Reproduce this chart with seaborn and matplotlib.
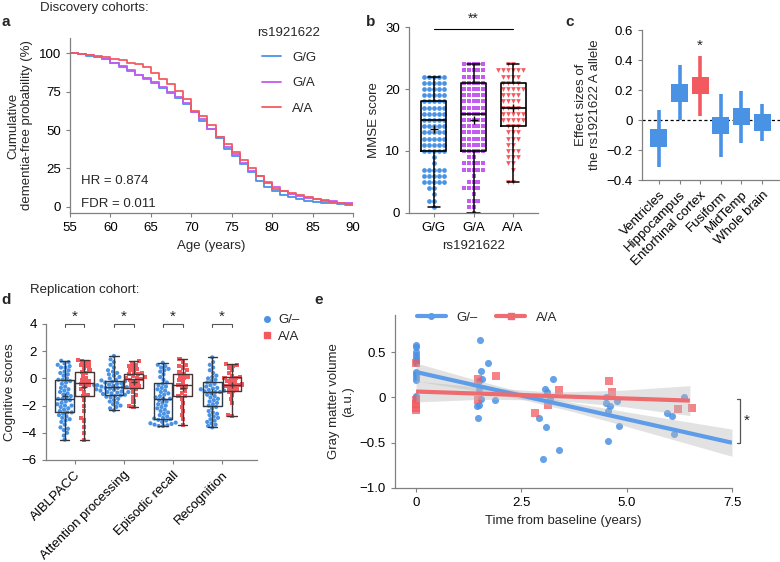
import numpy as np
import pandas as pd
import matplotlib
matplotlib.use('Agg')
import matplotlib.pyplot as plt
from matplotlib.lines import Line2D
import seaborn as sns

# ============================================================================
# DATA
# ============================================================================

# a - Kaplan-Meier style curves, one value per year
ages = list(range(55, 91))
km_gg = [100, 99.6, 98.4, 97.5, 96.3, 93.5, 91.3, 88.7, 86.0, 83.8, 80.5, 77.5,
         74.0, 71.0, 67.0, 62.0, 56.0, 50.5, 45.0, 37.5, 33.0, 28.0, 23.0, 17.0,
         13.0, 10.5, 8.0, 6.3, 5.0, 4.0, 3.4, 2.8, 2.3, 1.8, 1.4, 1.1]
km_ga = [100, 99.6, 98.6, 97.8, 96.5, 94.0, 91.8, 89.2, 86.2, 83.5, 81.5, 78.0,
         75.0, 71.5, 67.5, 62.0, 57.0, 51.0, 45.5, 39.0, 34.5, 28.5, 23.5, 20.0,
         16.0, 13.0, 10.5, 8.5, 7.2, 6.0, 5.0, 4.2, 3.5, 2.8, 2.2, 1.6]
km_aa = [100, 99.5, 99.0, 98.5, 97.8, 96.5, 95.5, 94.0, 93.0, 91.0, 87.5, 83.5,
         80.0, 75.5, 70.5, 62.5, 59.0, 53.0, 45.5, 41.0, 36.0, 30.5, 25.0, 20.0,
         15.5, 11.5, 10.5, 9.0, 8.0, 6.5, 5.0, 4.0, 3.0, 2.5, 2.0, 1.5]

# b - MMSE score counts per integer score (0..24)
mmse_scores = list(range(0, 25))
mmse_gg_counts = [0, 1, 2, 1, 2, 5, 5, 5, 1, 1, 5, 5, 5, 5, 5, 5, 5, 5, 5, 5,
                  5, 5, 5, 0, 0]
mmse_ga_counts = [1, 2, 3, 1, 4, 3, 1, 5, 5, 2, 5, 5, 5, 5, 5, 5, 5, 5, 5, 5,
                  5, 5, 5, 5, 5]
mmse_aa_counts = [0, 0, 0, 0, 0, 2, 0, 1, 2, 3, 3, 2, 3, 3, 3, 5, 5, 4, 4, 4,
                  5, 4, 4, 6, 2]
mmse_groups = ['G/G', 'G/A', 'A/A']
mmse_q1 = [10, 10, 14]
mmse_med = [15, 16, 17]
mmse_q3 = [18, 21, 21]
mmse_lo = [1, 0, 5]
mmse_hi = [22, 24, 24]
mmse_mean = [13.5, 15, 17]

# c - effect sizes
regions = ['Ventricles', 'Hippocampus', 'Entorhinal cortex', 'Fusiform',
           'MidTemp', 'Whole brain']
effect = [-0.12, 0.18, 0.23, -0.035, 0.025, -0.015]
effect_lo = [-0.31, 0.0, 0.03, -0.245, -0.15, -0.14]
effect_hi = [0.07, 0.37, 0.43, 0.175, 0.195, 0.11]
effect_sig = [False, False, True, False, False, False]

# d - cognitive scores
tests = ['AIBLPACC', 'Attention processing', 'Episodic recall', 'Recognition']
cog_g = {
    'AIBLPACC': [1.3, 1.2, 1.1, 1.0, 0.9, 0.8, 0.8, 0.6, 0.5, 0.4, 0.3, 0.2, 0.0,
                 -0.1, -0.1, -0.2, -0.3, -0.4, -0.6, -0.7, -0.8, -0.9, -1.0, -1.1,
                 -1.2, -1.3, -1.4, -1.5, -1.5, -1.6, -1.7, -1.8, -1.9, -2.0, -2.0,
                 -2.1, -2.2, -2.3, -2.4, -2.5, -2.5, -2.6, -2.7, -2.8, -2.9, -3.0,
                 -3.1, -3.2, -3.4, -3.6, -3.7, -3.8, -4.0, -4.2, -4.5],
    'Attention processing': [1.65, 1.4, 1.2, 1.0, 0.8, 0.6, 0.5, 0.4, 0.3, 0.2,
                             0.1, 0.0, -0.1, -0.15, -0.2, -0.25, -0.3, -0.35,
                             -0.4, -0.45, -0.5, -0.5, -0.55, -0.6, -0.6, -0.65,
                             -0.65, -0.7, -0.7, -0.75, -0.8, -0.85, -0.9, -0.95,
                             -1.0, -1.0, -1.05, -1.1, -1.15, -1.2, -1.25, -1.3,
                             -1.35, -1.4, -1.5, -1.6, -1.7, -1.8, -1.9, -2.0,
                             -2.1, -2.2, -2.35],
    'Episodic recall': [1.15, 1.0, 0.9, 0.8, 0.7, 0.6, 0.5, 0.3, 0.1, -0.1, -0.3,
                        -0.4, -0.5, -0.6, -0.7, -0.8, -0.9, -1.0, -1.1, -1.2,
                        -1.3, -1.4, -1.5, -1.5, -1.6, -1.7, -1.8, -1.9, -2.0,
                        -2.1, -2.2, -2.3, -2.4, -2.5, -2.6, -2.7, -2.8, -2.9,
                        -2.95, -3.0, -3.05, -3.1, -3.2, -3.25, -3.3, -3.35, -3.4,
                        -3.45, -3.5, -3.5],
    'Recognition': [1.55, 1.2, 1.0, 0.8, 0.6, 0.4, 0.2, 0.1, 0.0, -0.1, -0.2,
                    -0.3, -0.4, -0.5, -0.6, -0.7, -0.75, -0.8, -0.85, -0.9, -0.95,
                    -1.0, -1.0, -1.1, -1.2, -1.3, -1.4, -1.5, -1.6, -1.7, -1.8,
                    -1.9, -2.0, -2.1, -2.2, -2.4, -2.5, -2.6, -2.7, -2.8, -2.9,
                    -3.0, -3.1, -3.2, -3.3, -3.4, -3.5, -3.6],
}
cog_a = {
    'AIBLPACC': [1.35, 1.3, 1.2, 1.1, 1.0, 0.9, 0.8, 0.6, 0.5, 0.4, 0.2, 0.0,
                 -0.1, -0.2, -0.3, -0.4, -0.5, -0.6, -0.8, -1.0, -1.2, -1.3, -1.6,
                 -2.0, -2.4, -2.9, -3.1, -3.6, -4.0, -4.5],
    'Attention processing': [1.25, 1.1, 1.0, 0.9, 0.8, 0.7, 0.6, 0.5, 0.4, 0.35,
                             0.3, 0.2, 0.1, 0.05, 0.0, -0.05, -0.1, -0.2, -0.3,
                             -0.4, -0.5, -0.6, -0.7, -0.8, -1.0, -1.2, -1.4,
                             -1.7, -2.0, -2.1],
    'Episodic recall': [1.4, 1.2, 1.0, 0.9, 0.8, 0.6, 0.5, 0.35, 0.2, 0.1, 0.0,
                        -0.1, -0.3, -0.5, -0.6, -0.7, -0.9, -1.1, -1.3, -1.3,
                        -1.5, -1.8, -2.1, -2.4, -2.7, -3.0, -3.45],
    'Recognition': [1.05, 1.0, 0.9, 0.8, 0.6, 0.4, 0.2, 0.1, 0.05, 0.0, -0.1,
                    -0.2, -0.3, -0.4, -0.45, -0.5, -0.55, -0.6, -0.7, -0.8, -0.9,
                    -1.0, -1.2, -1.5, -1.8, -2.7, -2.75],
}
cog_g_q1 = [-2.5, -1.2, -2.95, -2.05]
cog_g_med = [-1.5, -0.65, -1.5, -1.0]
cog_g_q3 = [-0.1, -0.2, -0.35, -0.25]
cog_g_lo = [-4.5, -2.35, -3.5, -3.6]
cog_g_hi = [1.3, 1.65, 1.15, 1.55]
cog_g_mean = [-1.3, -0.65, -1.55, -1.0]
cog_a_q1 = [-1.3, -0.7, -1.3, -0.9]
cog_a_med = [-0.35, -0.05, -0.5, -0.5]
cog_a_q3 = [0.5, 0.35, 0.35, 0.1]
cog_a_lo = [-4.5, -2.1, -3.45, -2.75]
cog_a_hi = [1.35, 1.25, 1.4, 1.05]
cog_a_mean = [-0.6, -0.3, -0.7, -0.5]

# e - gray matter volume over time
gm_g_x = [0, 0, 0, 0, 0, 0, 0, 0, 0, 0, 0, 0, 0, 0,
          1.52, 1.54, 1.57, 1.5, 1.5, 1.54, 1.5, 1.45, 1.48, 1.71, 1.87,
          3.06, 3.1, 3.24, 2.92, 3.09, 3.02, 3.4, 3.18,
          4.52, 4.52, 4.56, 4.6, 4.78, 4.81, 4.55,
          5.96, 6.08, 6.13, 6.36]
gm_g_y = [0.58, 0.56, 0.5, 0.47, 0.44, 0.4, 0.38, 0.28, 0.26, 0.225, 0.19, 0.02,
          0.0, -0.03,
          0.63, 0.29, 0.2, 0.185, 0.09, -0.02, -0.085, -0.1, -0.23, 0.38, -0.03,
          0.09, 0.06, 0.2, -0.23, -0.33, -0.68, -0.58, -0.02,
          0.0, -0.06, -0.15, -0.1, -0.04, -0.31, -0.48,
          -0.17, -0.21, -0.4, 0.0]
gm_a_x = [0, 0, 0, 0, 0, 1.46, 1.46, 1.9, 2.83, 3.14, 3.4, 4.58, 4.65, 6.22, 6.56]
gm_a_y = [0.38, -0.03, -0.07, -0.115, -0.14, 0.2, -0.03, 0.24, -0.17, -0.085,
          0.08, 0.185, 0.063, -0.13, -0.12]
fit_g_x = [0, 7.5]
fit_g_y = [0.28, -0.5]
fit_a_x = [0, 6.5]
fit_a_y = [0.065, -0.035]
band_g_x = [0, 1.25, 2.5, 3.75, 5.0, 6.25, 7.5]
band_g_lo = [0.18, 0.085, -0.02, -0.16, -0.32, -0.485, -0.65]
band_g_hi = [0.38, 0.215, 0.06, -0.06, -0.16, -0.255, -0.35]
band_a_x = [0, 1.6, 3.25, 4.9, 6.5]
band_a_lo = [-0.05, -0.02, -0.03, -0.1, -0.2]
band_a_hi = [0.18, 0.11, 0.06, 0.08, 0.13]

# ============================================================================
# STYLE
# ============================================================================

BLUE = '#4a92e4'
PURPLE = '#c45cf0'
RED = '#f25a60'
SPINE = '#808080'
FS = 9.5

sns.set_style('ticks')
plt.rcParams['font.family'] = ['Liberation Sans', 'DejaVu Sans']
plt.rcParams['font.size'] = FS
plt.rcParams['axes.edgecolor'] = SPINE
plt.rcParams['axes.linewidth'] = 0.9
plt.rcParams['xtick.color'] = SPINE
plt.rcParams['ytick.color'] = SPINE
plt.rcParams['xtick.labelcolor'] = 'black'
plt.rcParams['ytick.labelcolor'] = 'black'
plt.rcParams['xtick.major.size'] = 3
plt.rcParams['ytick.major.size'] = 3
plt.rcParams['xtick.labelsize'] = FS
plt.rcParams['ytick.labelsize'] = FS
plt.rcParams['axes.labelsize'] = FS

W, H = 780, 562
fig = plt.figure(figsize=(W / 100, H / 100), dpi=100)


def add_ax(left, top, right, bottom):
    return fig.add_axes([left / W, 1 - bottom / H, (right - left) / W,
                         (bottom - top) / H])


def fig_text(x, y, s, **kw):
    fig.text(x / W, 1 - y / H, s, **kw)


def box_stats(q1, med, q3, lo, hi, mean):
    return [dict(q1=a, med=b, q3=c, whislo=d, whishi=e, mean=f, fliers=[])
            for a, b, c, d, e, f in zip(q1, med, q3, lo, hi, mean)]


# ============================================================================
# PANEL a
# ============================================================================

ax = add_ax(70, 38, 353, 213)
for vals, col, lab in [(km_gg, BLUE, 'G/G'), (km_ga, PURPLE, 'G/A'),
                       (km_aa, RED, 'A/A')]:
    ax.plot(ages, vals, drawstyle='steps-post', color=col, lw=1.3, label=lab)
ax.set_xlim(55, 90)
ax.set_ylim(-4, 110)
ax.set_xticks(range(55, 91, 5))
ax.set_yticks([0, 25, 50, 75, 100])
ax.set_xlabel('Age (years)', labelpad=4)
ax.set_ylabel('Cumulative\ndementia-free probability (%)', linespacing=1.25)
ax.text(0.04, 0.18, 'HR = 0.874', transform=ax.transAxes, va='center')
ax.text(0.04, 0.05, 'FDR = 0.011', transform=ax.transAxes, va='center')
leg = ax.legend(title='rs1921622', frameon=False, loc='upper left',
                bbox_to_anchor=(0.62, 1.13), handlelength=1.5,
                labelspacing=1.0, fontsize=FS, title_fontsize=FS)
leg._legend_box.sep = 9
sns.despine(ax=ax)

# ============================================================================
# PANEL b
# ============================================================================

ax = add_ax(409, 27, 538, 213)
markers_b = ['o', 's', 'v']
colors_b = [BLUE, PURPLE, RED]
for grp, counts, mk, col in zip(mmse_groups,
                                [mmse_gg_counts, mmse_ga_counts, mmse_aa_counts],
                                markers_b, colors_b):
    vals = np.repeat(mmse_scores, counts)
    sns.swarmplot(x=[grp] * len(vals), y=vals, order=mmse_groups, ax=ax,
                  marker=mk, color=col, size=3.4, linewidth=0, zorder=1)
ax.bxp(box_stats(mmse_q1, mmse_med, mmse_q3, mmse_lo, mmse_hi, mmse_mean),
       positions=range(3), widths=0.63, showmeans=True, showfliers=False,
       boxprops=dict(color='black', lw=1.2), medianprops=dict(color='black', lw=1.2),
       whiskerprops=dict(color='black', lw=1.1), capprops=dict(color='black', lw=1.1),
       meanprops=dict(marker='+', markeredgecolor='black', markersize=6),
       manage_ticks=False, zorder=3)
ax.set_xlim(-0.63, 2.63)
ax.set_ylim(0, 30)
ax.set_yticks([0, 10, 20, 30])
ax.set_xticks(range(3))
ax.set_xticklabels(mmse_groups)
ax.set_xlabel('rs1921622')
ax.set_ylabel('MMSE score')
ax.plot([0, 2], [29.7, 29.7], color='black', lw=0.8, clip_on=False)
ax.text(1, 30.2, '**', ha='center', va='bottom', fontsize=10)
sns.despine(ax=ax)

# ============================================================================
# PANEL c
# ============================================================================

ax = add_ax(642, 30, 780, 180)
xpos = np.arange(len(regions))
col_c = [RED if s else BLUE for s in effect_sig]
ax.axhline(0, color='black', lw=0.9, ls=(0, (2.5, 2)), zorder=0)
ax.vlines(xpos, effect_lo, effect_hi, colors=col_c, lw=2.6, zorder=2)
sns.scatterplot(x=xpos, y=effect, hue=col_c, palette={BLUE: BLUE, RED: RED},
                marker='s', s=150, linewidth=0, legend=False, ax=ax, zorder=3)
for i, s in enumerate(effect_sig):
    if s:
        ax.text(i, effect_hi[i] + 0.02, '*', ha='center', va='bottom', fontsize=11)
ax.set_xlim(-0.82, 5.87)
ax.set_ylim(-0.4, 0.6)
ax.set_yticks([-0.4, -0.2, 0, 0.2, 0.4, 0.6])
ax.set_yticklabels(['\u22120.4', '\u22120.2', '0', '0.2', '0.4', '0.6'])
ax.set_xticks(xpos)
ax.set_xticklabels(regions, rotation=45, ha='right', rotation_mode='anchor')
ax.set_ylabel('Effect sizes of\nthe rs1921622 A allele', linespacing=1.25)
sns.despine(ax=ax)

# ============================================================================
# PANEL d
# ============================================================================

ax = add_ax(46, 324, 257, 460)
rows = []
for t in tests:
    rows += [(t, 'G/\u2013', v) for v in cog_g[t]]
    rows += [(t, 'A/A', v) for v in cog_a[t]]
df_d = pd.DataFrame(rows, columns=['test', 'geno', 'score'])
hue_levels = ['G/\u2013', 'A/A']
for lvl, mk, col in [(hue_levels[0], 'o', BLUE), (hue_levels[1], 's', RED)]:
    sns.swarmplot(data=df_d[df_d.geno == lvl], x='test', y='score', hue='geno',
                  hue_order=hue_levels, order=tests, dodge=True,
                  palette={hue_levels[0]: col, hue_levels[1]: col}, marker=mk,
                  size=3.0, linewidth=0, legend=False, ax=ax, zorder=1)
pos = np.arange(len(tests))
common = dict(widths=0.38, showmeans=True, showfliers=False, manage_ticks=False,
              zorder=3)
ax.bxp(box_stats(cog_g_q1, cog_g_med, cog_g_q3, cog_g_lo, cog_g_hi, cog_g_mean),
       positions=pos - 0.2,
       boxprops=dict(color='#2f3a48', lw=1.0), medianprops=dict(color='#2f3a48', lw=1.0),
       whiskerprops=dict(color='#2f3a48', lw=1.0), capprops=dict(color='#2f3a48', lw=1.0),
       meanprops=dict(marker='+', markeredgecolor='#2f3a48', markersize=5), **common)
ax.bxp(box_stats(cog_a_q1, cog_a_med, cog_a_q3, cog_a_lo, cog_a_hi, cog_a_mean),
       positions=pos + 0.2,
       boxprops=dict(color='#4a3434', lw=1.0), medianprops=dict(color='#4a3434', lw=1.0),
       whiskerprops=dict(color='#4a3434', lw=1.0), capprops=dict(color='#4a3434', lw=1.0),
       meanprops=dict(marker='+', markeredgecolor='#4a3434', markersize=5), **common)
for p in pos:
    ax.plot([p - 0.2, p - 0.2, p + 0.2, p + 0.2], [3.8, 4.0, 4.0, 3.8],
            color='#555555', lw=0.8, clip_on=False)
    ax.text(p, 4.05, '*', ha='center', va='bottom', fontsize=11)
ax.set_xlim(-0.58, 3.71)
ax.set_ylim(-6, 4)
ax.set_yticks([-6, -4, -2, 0, 2, 4])
ax.set_yticklabels(['\u22126', '\u22124', '\u22122', '0', '2', '4'])
ax.set_xticks(pos)
ax.set_xticklabels(tests, rotation=45, ha='right', rotation_mode='anchor')
ax.set_xlabel('')
ax.set_ylabel('Cognitive scores')
handles = [Line2D([], [], marker='o', color=BLUE, ls='', markersize=4),
           Line2D([], [], marker='s', color=RED, ls='', markersize=4)]
ax.legend(handles, hue_levels, frameon=False, loc='upper left',
          bbox_to_anchor=(0.97, 1.16), handlelength=0.6, handletextpad=0.6,
          labelspacing=0.3, fontsize=FS)
sns.despine(ax=ax)

# ============================================================================
# PANEL e
# ============================================================================

ax = add_ax(395, 315, 732, 488)
sns.scatterplot(x=gm_g_x, y=gm_g_y, color=BLUE, marker='o', s=26, linewidth=0,
                alpha=0.85, ax=ax, zorder=1)
sns.scatterplot(x=gm_a_x, y=gm_a_y, color=RED, marker='s', s=26, linewidth=0,
                alpha=0.75, ax=ax, zorder=1)
ax.fill_between(band_g_x, band_g_lo, band_g_hi, color='#b8b8b8', alpha=0.4,
                lw=0, zorder=2)
ax.fill_between(band_a_x, band_a_lo, band_a_hi, color='#b8b8b8', alpha=0.4,
                lw=0, zorder=2)
ax.plot(fit_g_x, fit_g_y, color='#5d9ce8', lw=3, zorder=3, solid_capstyle='butt')
ax.plot(fit_a_x, fit_a_y, color='#ee6b70', lw=3, zorder=3, solid_capstyle='butt')
ax.plot([7.62, 7.7, 7.7, 7.62], [-0.02, -0.02, -0.5, -0.5], color='#555555',
        lw=0.9, clip_on=False)
ax.text(7.85, -0.26, '*', ha='center', va='center', fontsize=11)
ax.set_xlim(-0.5, 7.5)
ax.set_ylim(-1.0, 0.91)
ax.set_xticks([0, 2.5, 5.0, 7.5])
ax.set_xticklabels(['0', '2.5', '5.0', '7.5'])
ax.set_yticks([-1.0, -0.5, 0, 0.5])
ax.set_yticklabels(['\u22121.0', '\u22120.5', '0', '0.5'])
ax.set_xlabel('Time from baseline (years)')
ax.set_ylabel('Gray matter volume\n(a.u.)', linespacing=1.25)
handles = [Line2D([], [], color='#5d9ce8', lw=3, marker='o', markersize=4),
           Line2D([], [], color='#ee6b70', lw=3, marker='s', markersize=4)]
ax.legend(handles, ['G/\u2013', 'A/A'], frameon=False, ncol=2, loc='upper left',
          bbox_to_anchor=(0.03, 1.09), handlelength=2.2, columnspacing=1.4,
          fontsize=FS)
sns.despine(ax=ax)

# ============================================================================
# LABELS
# ============================================================================

fig_text(40, 8, 'Discovery cohorts:', va='center', fontsize=FS)
fig_text(30, 290, 'Replication cohort:', va='center', fontsize=FS)
for letter, x, y in [('a', 1, 22), ('b', 366, 22), ('c', 565, 22),
                     ('d', 1, 300), ('e', 314, 300)]:
    fig_text(x, y, letter, fontweight='bold', fontsize=11, va='center')

fig.savefig('out.png', dpi=100)
